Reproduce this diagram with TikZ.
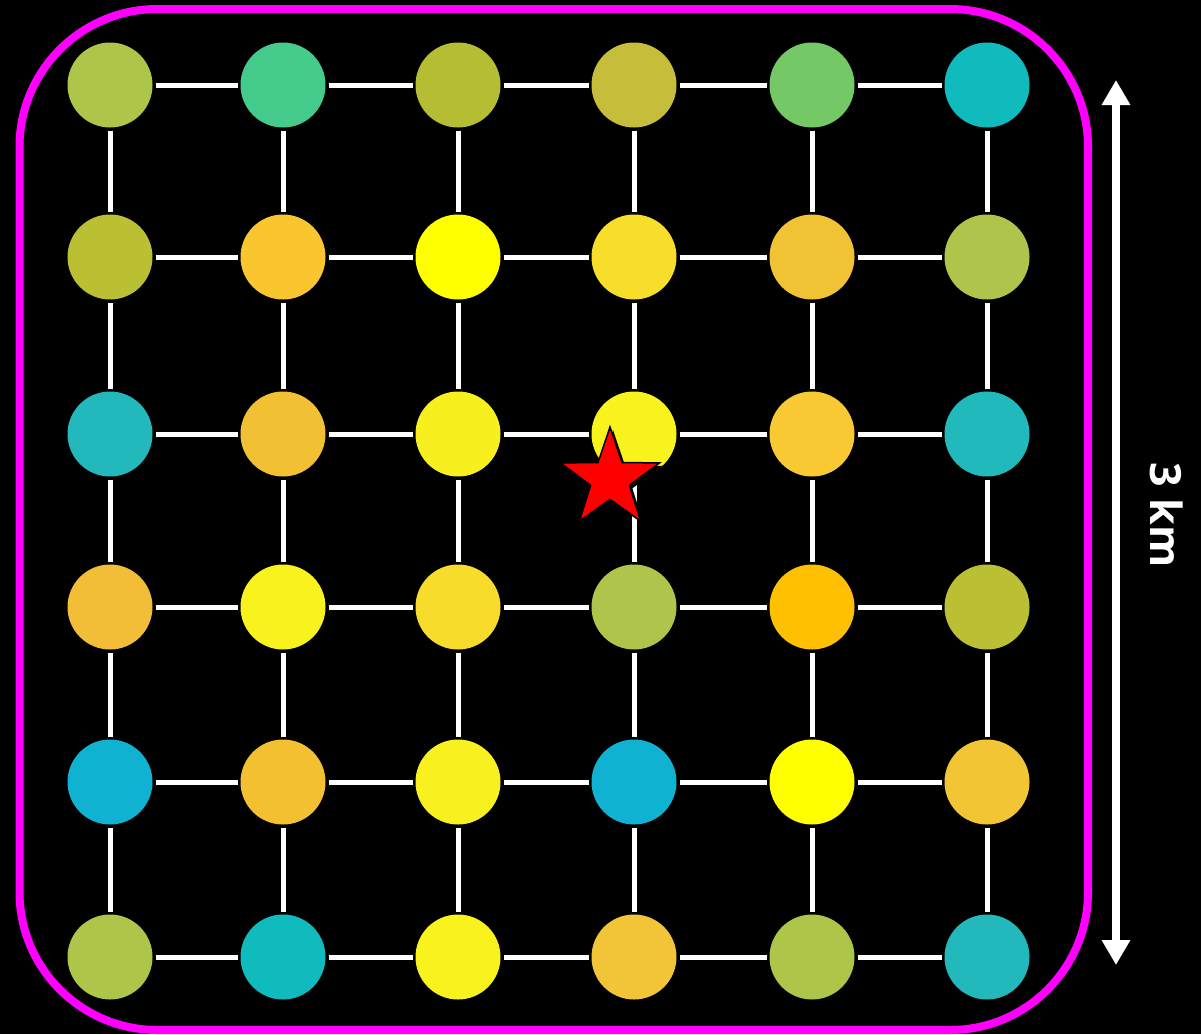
\documentclass[tikz,border=0pt]{standalone}
\usepackage{fontspec}
\newfontfamily\labelfont{Open Sans}
\usetikzlibrary{shapes.geometric,arrows.meta}
% row 1
\definecolor{c11}{HTML}{ADC548}\definecolor{c12}{HTML}{44CB8C}\definecolor{c13}{HTML}{B5BE33}
\definecolor{c14}{HTML}{C6BE3A}\definecolor{c15}{HTML}{74C966}\definecolor{c16}{HTML}{10BBBD}
% row 2
\definecolor{c21}{HTML}{BBBF32}\definecolor{c22}{HTML}{F9C62F}\definecolor{c23}{HTML}{FFFF00}
\definecolor{c24}{HTML}{F7DE2A}\definecolor{c25}{HTML}{F1C233}\definecolor{c26}{HTML}{AEC44B}
% row 3
\definecolor{c31}{HTML}{23B9BC}\definecolor{c32}{HTML}{F2C033}\definecolor{c33}{HTML}{F8EF1F}
\definecolor{c34}{HTML}{F8F31C}\definecolor{c35}{HTML}{F8C932}\definecolor{c36}{HTML}{22B9BC}
% row 4
\definecolor{c41}{HTML}{F2BE38}\definecolor{c42}{HTML}{F8F31D}\definecolor{c43}{HTML}{F7DC2B}
\definecolor{c44}{HTML}{AEC44B}\definecolor{c45}{HTML}{FEC000}\definecolor{c46}{HTML}{BBBF33}
% row 5
\definecolor{c51}{HTML}{10B2D1}\definecolor{c52}{HTML}{F2C030}\definecolor{c53}{HTML}{F8F01F}
\definecolor{c54}{HTML}{10B2D1}\definecolor{c55}{HTML}{FFFF00}\definecolor{c56}{HTML}{F2C534}
% row 6
\definecolor{c61}{HTML}{ADC548}\definecolor{c62}{HTML}{10BBBD}\definecolor{c63}{HTML}{F8F31D}
\definecolor{c64}{HTML}{F2C437}\definecolor{c65}{HTML}{ADC548}\definecolor{c66}{HTML}{23B9BC}
\definecolor{frame}{HTML}{FF00FF}
\begin{document}
\begin{tikzpicture}[x=1pt,y=-1pt,
  dot/.style={circle,minimum size=85pt,inner sep=0pt,outer sep=3pt},
  link/.style={draw=white,line width=5pt},
  starshape/.style={star,star points=5,star point ratio=2.55,minimum size=104pt,inner sep=0pt},
  scalearrow/.style={draw=white,line width=8pt,{Triangle[width=27pt,length=25pt]}-{Triangle[width=27pt,length=25pt]}}]
\fill[black] (0,0) rectangle (1201,1034);
\useasboundingbox (0,0) rectangle (1201,1034);
\draw[frame,line width=8pt,rounded corners=138pt] (19.5,9) rectangle (1088,1030);
\foreach \r/\y in {1/85,2/257,3/434,4/607,5/782,6/957}{
  \foreach \c/\x in {1/110,2/283,3/458,4/634,5/812,6/987}{
    \node[dot,fill=c\r\c] (n\r\c) at (\x,\y) {};
  }
}
\foreach \r in {1,...,6}{
  \foreach \c [count=\d from 2] in {1,...,5}{
    \draw[link] (n\r\c) -- (n\r\d);
    \draw[link] (n\c\r) -- (n\d\r);
  }
}
\node[starshape,fill=black] (starshadow) at (613,482) {};
\node[starshape,fill=red,draw=black,line width=1.5pt] (target) at (610,479) {};
\coordinate (atop) at (1116,80);
\coordinate (abot) at (1116,965);
\draw[scalearrow] (abot) -- (atop);
\node[rotate=-90,text=white,font=\labelfont\bfseries\fontsize{43}{52}\selectfont] (lbl) at (1167,515) {3 km};
\end{tikzpicture}
\end{document}
